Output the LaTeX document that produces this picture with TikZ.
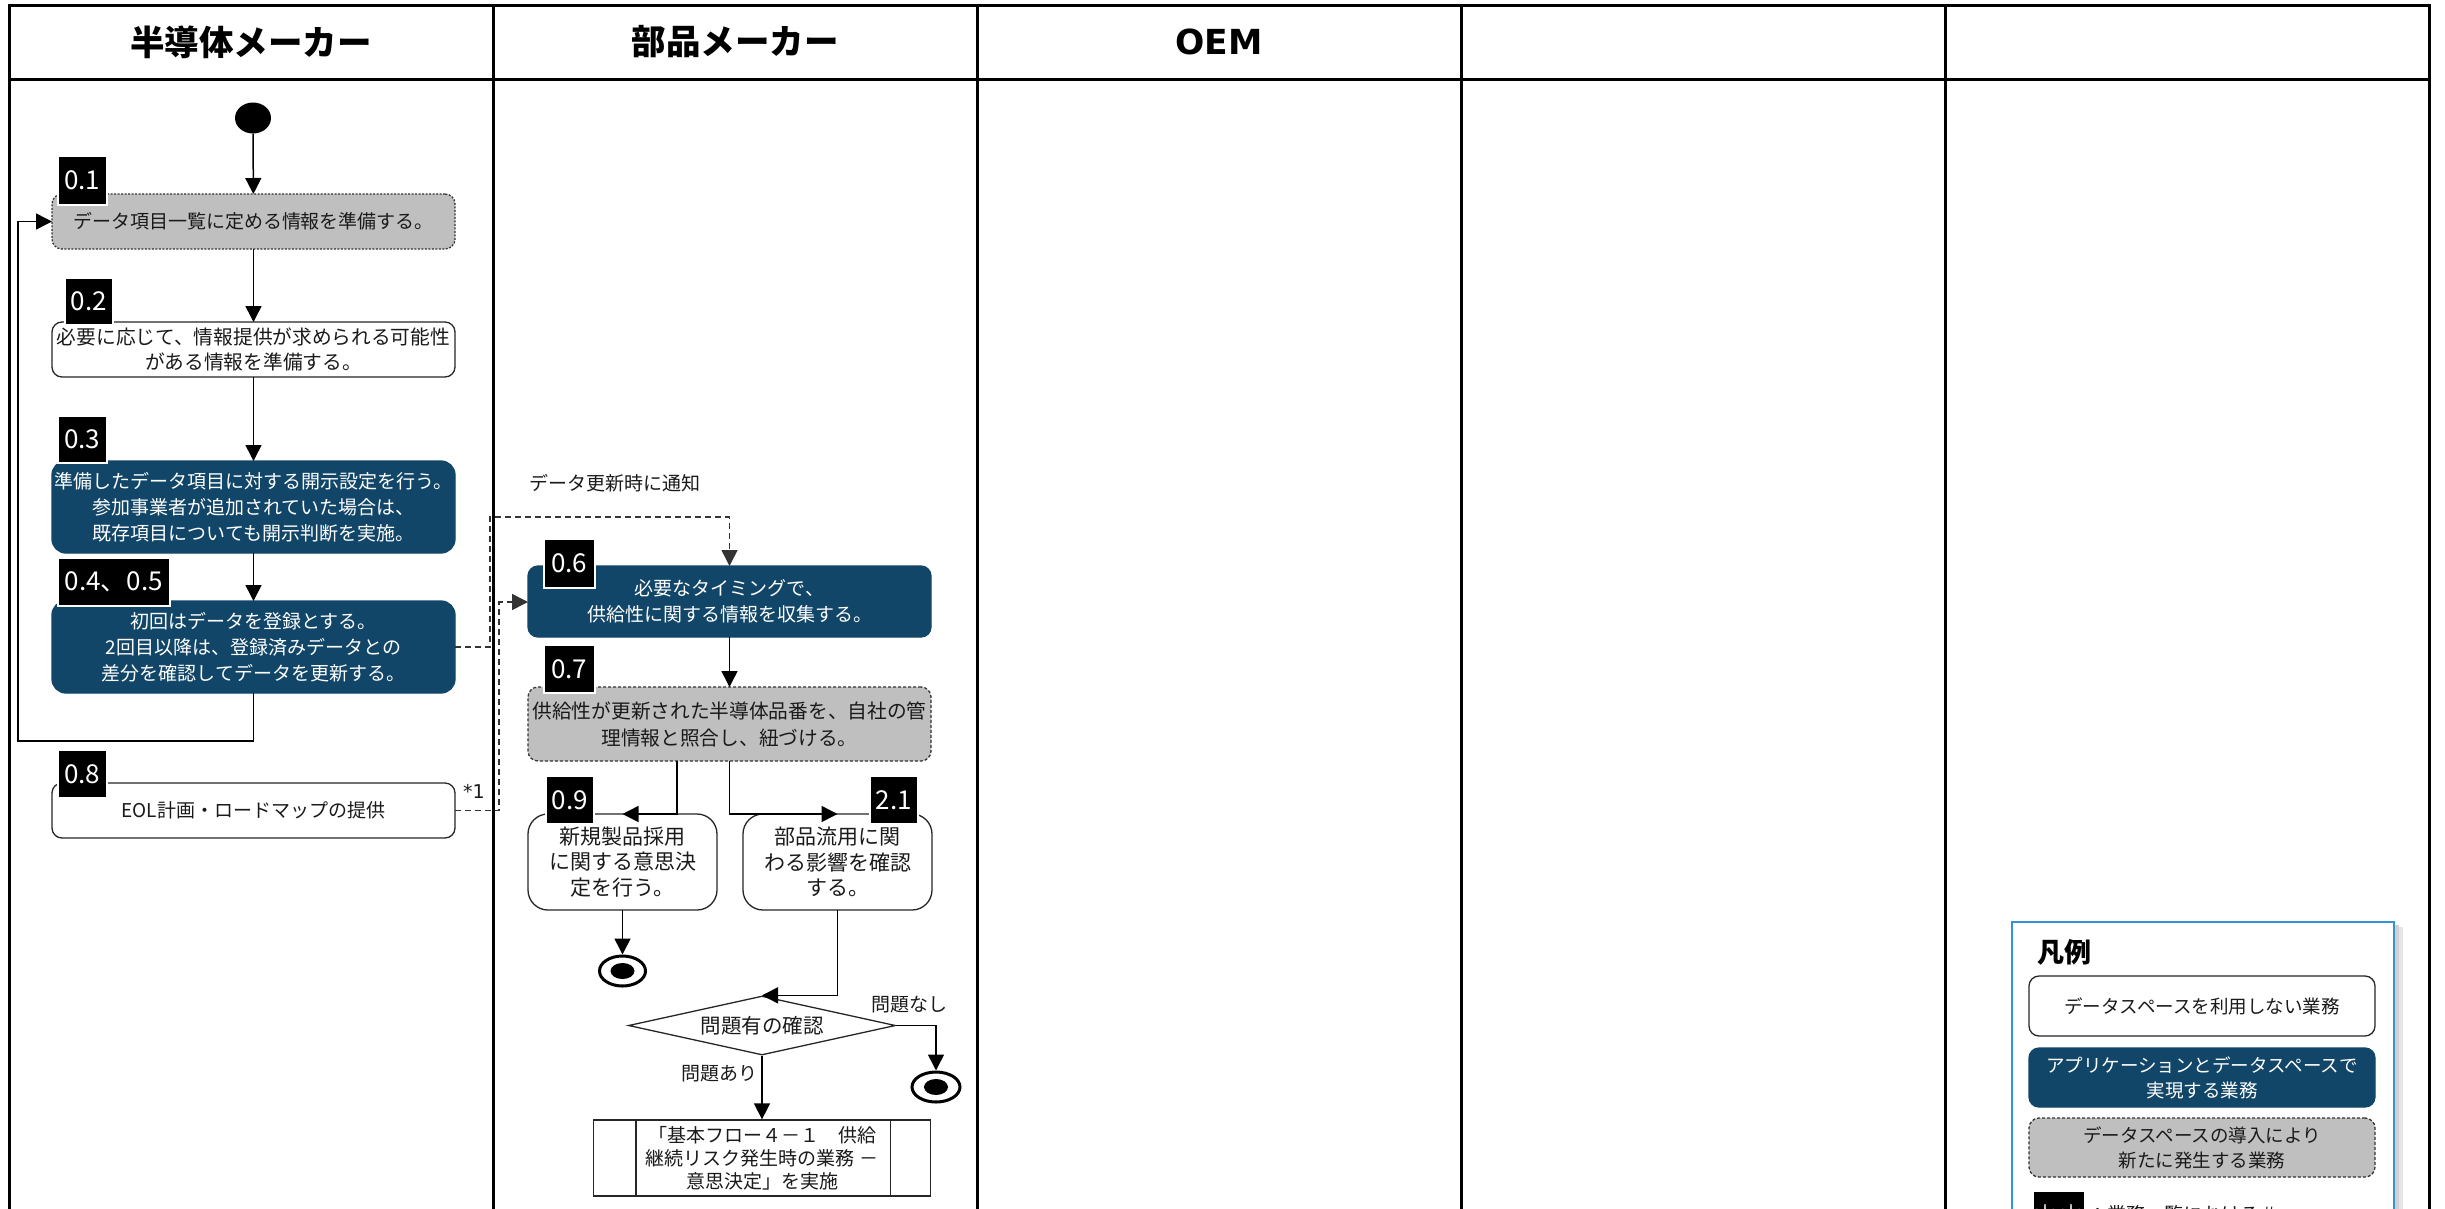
\documentclass[tikz,border=0pt]{standalone}
\usepackage{fontspec}
\setmainfont{Noto Sans CJK JP}
\newfontfamily\vfont{DejaVu Sans}
\usetikzlibrary{arrows.meta,shapes.geometric,calc}
\definecolor{dblue}{HTML}{114668}
\definecolor{lgray}{HTML}{BFBFBF}
\definecolor{lblue}{HTML}{3492D6}
\definecolor{txt}{HTML}{1A1A1A}
\tikzset{
 box/.style={anchor=north west, inner sep=0pt, outer sep=0pt, align=center, rounded corners=10pt, line width=1.3pt, text=txt, font=\fontsize{19}{26}\selectfont},
 wbox/.style={box, draw=black!85, fill=white},
 bbox/.style={box, draw=dblue, fill=dblue, text=white},
 gbox/.style={box, draw=black!80, fill=lgray, dash pattern=on 3pt off 2pt},
 lab/.style={anchor=north west, fill=black, draw=white, line width=1.5pt, text=white, inner sep=0pt, font=\fontsize{26}{26}\selectfont},
 arr/.style={line width=1.5pt, -{Triangle[length=16pt,width=16pt]}},
 dsh/.style={line width=1.5pt, dash pattern=on 6pt off 4pt, draw=black!80},
 tbl/.style={line width=3pt},
 plain/.style={font=\fontsize{19}{24}\selectfont, text=txt, inner sep=0pt},
 hdr/.style={font=\fontsize{34.5}{34.5}\selectfont\bfseries, text=black, inner sep=0pt},
 endnode/.style={ellipse, draw=black, line width=3pt, fill=white, inner sep=0pt, minimum width=46pt, minimum height=30pt,
   path picture={\fill[black] (path picture bounding box.center) ellipse (12pt and 8pt);}},
}
\begin{document}
\begin{tikzpicture}[x=1pt,y=-1pt]
\useasboundingbox (0,0) rectangle (2445,1208);
\fill[white] (0,0) rectangle (2445,1208);
\clip (0,0) rectangle (2445,1208);

% table
\draw[tbl] (9,5) rectangle (2429,1300);
\draw[tbl] (9,79) -- (2429,79);
\foreach \xx in {493,977,1461,1945} {\draw[tbl] (\xx,5) -- (\xx,1300);}
\node[hdr] (h1) at (251,42) {半導体メーカー};
\node[hdr] (h2) at (735,42) {部品メーカー};
\node[hdr] (h3) at (1219,42) {\vfont\bfseries OEM};

% column 1
\node[ellipse, fill=black, minimum width=36pt, minimum height=31pt, inner sep=0pt] (start) at (253,118) {};
\node[gbox, dash pattern=on 2pt off 1.5pt, minimum width=403pt, minimum height=55pt] (b01) at (52,194) {データ項目一覧に定める情報を準備する。};
\node[wbox, minimum width=403pt, minimum height=55pt, font=\fontsize{19.7}{25}\selectfont] (b02) at (52,322) {必要に応じて、情報提供が求められる可能性\\がある情報を準備する。};
\node[bbox, rounded corners=14pt, minimum width=403pt, minimum height=92pt] (b03) at (52,461) {準備したデータ項目に対する開示設定を行う。\\参加事業者が追加されていた場合は、\\既存項目についても開示判断を実施。};
\node[bbox, rounded corners=14pt, minimum width=403pt, minimum height=92pt] (b045) at (52,601) {初回はデータを登録とする。\\2回目以降は、登録済みデータとの\\差分を確認してデータを更新する。};
\node[wbox, minimum width=403pt, minimum height=55pt] (b08) at (52,783) {EOL計画・ロードマップの提供};

\node[lab, minimum width=49pt, minimum height=49pt] (l01) at (57,155) {0.1};
\node[lab, minimum width=48pt, minimum height=47pt] (l02) at (64,277) {0.2};
\node[lab, minimum width=49pt, minimum height=47pt] (l03) at (57,415) {0.3};
\node[lab, minimum width=112pt, minimum height=48pt] (l045) at (57,557) {0.4、0.5};
\node[lab, minimum width=49pt, minimum height=48pt] (l08) at (57,749) {0.8};

\draw[arr] (start) -- (b01);
\draw[arr] (b01) -- (b02);
\draw[arr] (b02) -- (b03);
\draw[arr] (b03) -- (b045);
\coordinate (lp) at (18,741);
\draw[arr] (b045.south) |- (lp) |- (b01.west);

\node[font=\vfont\fontsize{19}{19}\selectfont, text=txt, inner sep=0pt] (star1) at (474,791) {*1};

% column 2
\node[plain, anchor=west] (notify) at (529,483) {データ更新時に通知};
\node[bbox, minimum width=403pt, minimum height=71pt] (b06) at (528,566) {必要なタイミングで、\\供給性に関する情報を収集する。};
\node[gbox, minimum width=403pt, minimum height=74pt, font=\fontsize{19.7}{27}\selectfont] (b07) at (528,687) {供給性が更新された半導体品番を、自社の管\\理情報と照合し、紐づける。};
\node[wbox, rounded corners=20pt, minimum width=189pt, minimum height=96pt, font=\fontsize{21}{25.5}\selectfont] (b09) at (528,814) {新規製品採用\\に関する意思決\\定を行う。};
\node[wbox, rounded corners=20pt, minimum width=189pt, minimum height=96pt, font=\fontsize{21}{25.5}\selectfont] (b21) at (743,814) {部品流用に関\\わる影響を確認\\する。};

\node[lab, minimum width=51pt, minimum height=49pt] (l06) at (543,538) {0.6};
\node[lab, minimum width=51pt, minimum height=48pt] (l07) at (543,644) {0.7};
\node[lab, minimum width=48pt, minimum height=48pt] (l09) at (545,775) {0.9};
\node[lab, minimum width=48pt, minimum height=48pt] (l21) at (869,775) {2.1};

\coordinate (c1) at (490,517);
\draw[dsh, arr] (b045.east) -| (c1) -| (b06.north);
\coordinate (c2) at (499,602);
\draw[dsh, arr] (b08.east) -| (c2) -- (c2 -| b06.west);

\draw[arr] (b06) -- (b07);
\draw[arr] ([xshift=-52.5pt]b07.south) |- (b09.north);
\draw[arr] (b07.south) |- (b21.north);

\node[endnode] (end1) at (622.5,971) {};
\draw[arr] (b09.south) -- (end1.north);

\node[diamond, aspect=4.5, draw=black!85, line width=1.3pt, fill=white, inner sep=0pt, minimum width=267pt, minimum height=59pt, font=\fontsize{20.5}{20.5}\selectfont, text=txt] (dia) at (762,1025.5) {問題有の確認};
\draw[arr] (b21.south) |- (dia.north);

\node[endnode, minimum width=48pt] (end2) at (936,1087) {};
\draw[arr] (dia.east) -| (end2.north);
\node[plain] (nq) at (909,1005) {問題なし};

\node[draw=black!85, line width=1.3pt, fill=white, inner sep=0pt, minimum width=337pt, minimum height=76pt, align=center, font=\fontsize{19}{23}\selectfont, text=txt] (proc) at (762,1158) {「基本フロー４－１　供給\\継続リスク発生時の業務 －\\意思決定」を実施};
\draw[line width=1.3pt, black!85] ([xshift=43pt]proc.north west) -- ([xshift=43pt]proc.south west);
\draw[line width=1.3pt, black!85] ([xshift=-41pt]proc.north east) -- ([xshift=-41pt]proc.south east);
\draw[arr] (dia.south) -- (proc.north);
\node[plain] (yq) at (719,1074) {問題あり};

% legend
\fill[black!10] (2016,927) rectangle (2403,1300);
\fill[black!18] (2014,925) rectangle (2399,1300);
\draw[lblue, line width=2.5pt, fill=white] (2012,922) rectangle (2394,1300);
\node[anchor=west, font=\fontsize{27}{27}\selectfont\bfseries, text=black, inner sep=0pt] (legt) at (2037,952) {凡例};
\node[wbox, minimum width=346pt, minimum height=60pt, font=\fontsize{18.5}{25}\selectfont] (lg1) at (2029,976) {データスペースを利用しない業務};
\node[bbox, minimum width=346pt, minimum height=59pt, font=\fontsize{18.5}{25}\selectfont] (lg2) at (2029,1048) {アプリケーションとデータスペースで\\実現する業務};
\node[gbox, minimum width=346pt, minimum height=59pt, font=\fontsize{18.5}{25}\selectfont] (lg3) at (2029,1118) {データスペースの導入により\\新たに発生する業務};
\node[lab, minimum width=46pt, minimum height=48pt] (lg4) at (2032,1190) {＊＊};
\node[plain, anchor=west, font=\fontsize{19}{24}\selectfont] (lg4t) at (2088,1214) {：業務一覧における＃};
\end{tikzpicture}
\end{document}
